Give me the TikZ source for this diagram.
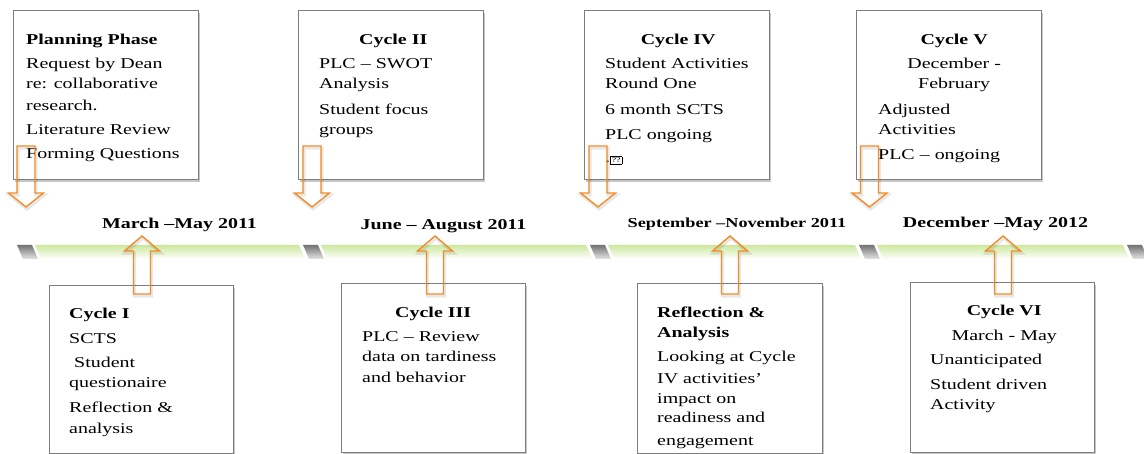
\documentclass[tikz,border=0pt]{standalone}
\usepackage{fontspec}
\setmainfont{Liberation Serif}[FakeStretch=1.33]
\usetikzlibrary{shadows}
\definecolor{arrorange}{RGB}{242,140,40}
\definecolor{boxgray}{RGB}{125,125,125}
\definecolor{bandgreen}{RGB}{204,232,158}
\newcommand\tlbody{\fontsize{15}{20.5}\selectfont}
\newcommand\tlsmall{\fontsize{13.7}{18}\selectfont}
\newcommand\tofubox{{\fboxsep=1pt\fboxrule=0.6pt\fbox{\fontsize{7.5}{7.5}\selectfont ??}}}
\tikzset{
  tlbox/.style={draw=boxgray, line width=1.2pt, fill=white, inner sep=0pt,
    anchor=north west,
    drop shadow={shadow xshift=1.5pt, shadow yshift=-2.5pt, opacity=0.22, fill=black}},
  tltext/.style={anchor=north west, inner sep=0pt, align=left, font=\tlbody},
  datelabel/.style={anchor=base, inner sep=0pt, font=\tlbody\bfseries},
  blkarrow/.style={draw=arrorange, line width=1.4pt, line join=miter},
  blkshadow/.style={draw=black, opacity=0.09, line width=3.2pt},
  downblk/.pic={
    \draw[blkshadow, shift={(1,2)}] (-9,146) -- (9,146) -- (9,193) -- (17.5,193) -- (0,207) -- (-17.5,193) -- (-9,193) -- cycle;
    \draw[blkarrow] (-9,146) -- (9,146) -- (9,193) -- (17.5,193) -- (0,207) -- (-17.5,193) -- (-9,193) -- cycle;},
  upblk/.pic={
    \draw[blkshadow, shift={(1,2)}] (-8.5,294) -- (8.5,294) -- (8.5,251) -- (17.5,251) -- (0,236) -- (-17.5,251) -- (-8.5,251) -- cycle;
    \draw[blkarrow] (-8.5,294) -- (8.5,294) -- (8.5,251) -- (17.5,251) -- (0,236) -- (-17.5,251) -- (-8.5,251) -- cycle;}
}
\begin{document}
\begin{tikzpicture}[x=1pt, y=-1pt]
\useasboundingbox (0,0) rectangle (1144,454);

% timeline band
\foreach \s/\e in {35/299, 321/586, 608/855, 877/1123}{
  \shade[top color=bandgreen, bottom color=white] (\s,245) -- (\e,245) -- (\e+6,259) -- (\s+6,259) -- cycle;
}
\foreach \g in {17, 303, 590, 859, 1127}{
  \shade[top color=black!55, bottom color=black!10] (\g,245) -- (\g+15,245) -- (\g+21,259) -- (\g+6,259) -- cycle;
}

% boxes
\node[tlbox, minimum width=185pt, minimum height=169pt] (plan) at (13,10) {};
\node[tlbox, minimum width=185pt, minimum height=169pt] (c2) at (298,10) {};
\node[tlbox, minimum width=185pt, minimum height=169pt] (c4) at (584,10) {};
\node[tlbox, minimum width=185pt, minimum height=169pt] (c5) at (856,10) {};
\node[tlbox, minimum width=184pt, minimum height=168pt] (c1) at (49,285) {};
\node[tlbox, minimum width=184pt, minimum height=169pt] (c3) at (341,283) {};
\node[tlbox, minimum width=185pt, minimum height=170pt] (refl) at (637,283) {};
\node[tlbox, minimum width=184pt, minimum height=170pt] (c6) at (910,282) {};

% box texts
\node[tltext] (plantxt) at (26,33.7) {\textbf{Planning Phase}\\[3.5pt]
  Request by Dean\\ re: collaborative\\[1pt] research.\\[3.5pt]
  Literature Review\\[4pt] Forming Questions};
\node[tltext, text width=148pt] (c2txt) at (319,33.7) {\makebox[148pt]{\textbf{Cycle II}}\\[3.5pt]
  PLC – SWOT\\ Analysis\\[5pt] Student focus\\ groups};
\node[tltext, text width=146pt] (c4txt) at (605,33.7) {\makebox[146pt]{\textbf{Cycle IV}}\\[3.5pt]
  Student Activities\\ Round One\\[5pt] 6 month SCTS\\[5pt] PLC ongoing\\[2.5pt] .\tofubox};
\node[tltext, text width=152pt] (c5txt) at (878,33.7) {\makebox[152pt]{\textbf{Cycle V}}\\[3.5pt]
  \makebox[152pt]{December -}\\ \makebox[152pt]{February}\\[5pt]
  Adjusted\\ Activities\\[4.5pt] PLC – ongoing};
\node[tltext] (c1txt) at (69,307.7) {\textbf{Cycle I}\\[4.5pt] SCTS\\[3.5pt]
  \hspace*{5pt}Student\\ questionaire\\[4.5pt] Reflection \&\\ analysis};
\node[tltext, text width=142pt] (c3txt) at (362,306.7) {\makebox[142pt]{\textbf{Cycle III}}\\[3.5pt]
  PLC – Review\\ data on tardiness\\ and behavior};
\node[tltext] (refltxt) at (657,306.7) {\textbf{Reflection \&}\\ \textbf{Analysis}\\[3.5pt]
  Looking at Cycle\\[1pt] IV activities’\\[-0.5pt] impact on\\[-1pt] readiness and\\[2pt] engagement};
\node[tltext, text width=148pt] (c6txt) at (930,304.7) {\makebox[148pt]{\textbf{Cycle VI}}\\[4.5pt]
  \makebox[148pt]{March - May}\\[3.5pt] Unanticipated\\[4.5pt] Student driven\\ Activity};

% date labels
\node[datelabel] (d1) at (179.5,229) {March –May 2011};
\node[datelabel] (d2) at (443.5,230) {June – August 2011};
\node[datelabel, font=\tlsmall\bfseries] (d3) at (737,228) {September –November 2011};
\node[datelabel] (d4) at (995.5,228) {December –May 2012};

% block arrows
\pic at (26,0) {downblk};
\pic at (312,0) {downblk};
\pic at (598,0) {downblk};
\pic at (869.5,0) {downblk};
\pic at (142,0) {upblk};
\pic at (435,0) {upblk};
\pic at (730,0) {upblk};
\pic at (1003,0) {upblk};
\end{tikzpicture}
\end{document}
